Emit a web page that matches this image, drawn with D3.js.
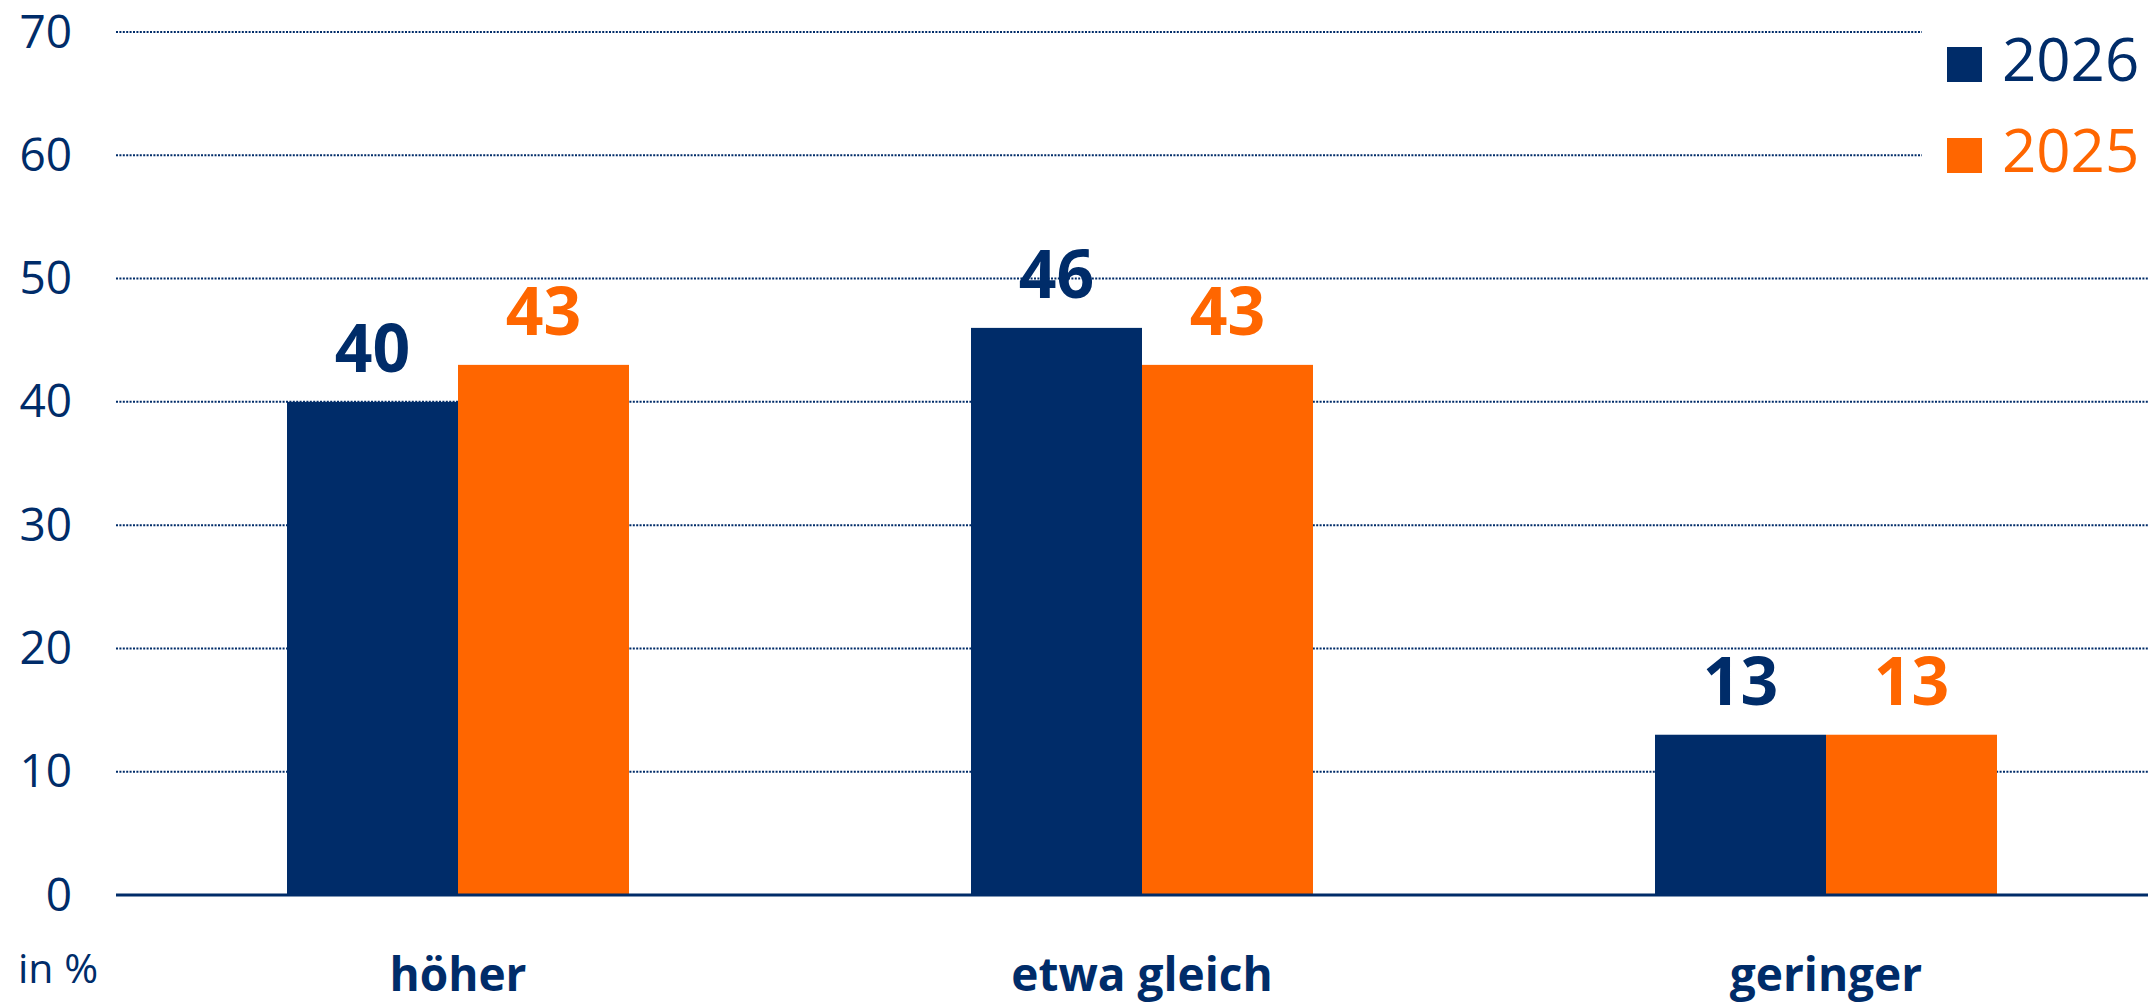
<!DOCTYPE html>
<html>
<head>
<meta charset="utf-8">
<script src="https://cdn.jsdelivr.net/npm/d3@7"></script>
<style>
  body { margin: 0; background: #fff; }
  text { font-family: "Open Sans", "Noto Sans", sans-serif; }
</style>
</head>
<body>
<div id="my_dataviz"></div>
<script>
// chart data
const categories = ["höher", "etwa gleich", "geringer"];
const years = ["2026", "2025"];
const values2026 = [40, 46, 13];
const values2025 = [43, 43, 13];
const yTicks = [0, 10, 20, 30, 40, 50, 60, 70];
const unitLabel = "in %";

const navy = "#002c69", orange = "#ff6600";
const color = d3.scaleOrdinal().domain(years).range([navy, orange]);

const W = 2148, H = 1002;
const plotLeft = 116;

const svg = d3.select("#my_dataviz")
    .append("svg")
    .attr("width", W)
    .attr("height", H);

const y = d3.scaleLinear().domain([0, 70]).range([895, 32]);

const x = d3.scaleBand()
    .domain(categories)
    .range([plotLeft, 2168])
    .paddingInner(0.5)
    .paddingOuter(0.25);

const xInner = d3.scaleBand()
    .domain(years)
    .range([0, x.bandwidth()]);

// gridlines (dotted), top two stop short of the legend
svg.append("g")
    .selectAll("line")
    .data(yTicks.filter(d => d > 0))
    .join("line")
    .attr("x1", plotLeft)
    .attr("x2", d => d >= 60 ? 1922 : W)
    .attr("y1", d => y(d))
    .attr("y2", d => y(d))
    .attr("stroke", navy)
    .attr("stroke-width", 2)
    .attr("stroke-dasharray", "2,1.4");

// y tick labels
svg.append("g")
    .selectAll("text")
    .data(yTicks)
    .join("text")
    .attr("x", 72)
    .attr("y", d => y(d))
    .attr("dy", "0.34em")
    .attr("text-anchor", "end")
    .attr("font-size", 46)
    .attr("fill", navy)
    .text(d => d);

// bars
const rows = categories.map((c, i) => ({ cat: c, vals: [
    { year: years[0], v: values2026[i] },
    { year: years[1], v: values2025[i] }
] }));

const groups = svg.append("g")
    .selectAll("g")
    .data(rows)
    .join("g")
    .attr("transform", d => `translate(${x(d.cat)},0)`);

groups.selectAll("rect")
    .data(d => d.vals)
    .join("rect")
    .attr("x", d => xInner(d.year))
    .attr("y", d => y(d.v))
    .attr("width", xInner.bandwidth())
    .attr("height", d => y(0) - y(d.v))
    .attr("fill", d => color(d.year));

groups.selectAll("text")
    .data(d => d.vals)
    .join("text")
    .attr("x", d => xInner(d.year) + xInner.bandwidth() / 2)
    .attr("y", d => y(d.v) - 30)
    .attr("text-anchor", "middle")
    .attr("font-size", 66)
    .attr("font-weight", 700)
    .attr("fill", d => color(d.year))
    .text(d => d.v);

// baseline
svg.append("line")
    .attr("x1", plotLeft)
    .attr("x2", W)
    .attr("y1", y(0))
    .attr("y2", y(0))
    .attr("stroke", navy)
    .attr("stroke-width", 3);

// category labels
svg.append("g")
    .selectAll("text")
    .data(categories)
    .join("text")
    .attr("x", d => x(d) + x.bandwidth() / 2)
    .attr("y", 991)
    .attr("text-anchor", "middle")
    .attr("font-size", 46)
    .attr("font-weight", 700)
    .attr("fill", navy)
    .text(d => d);

svg.append("text")
    .attr("x", 18)
    .attr("y", 983)
    .attr("font-size", 41)
    .attr("fill", navy)
    .text(unitLabel);

// legend
const legend = svg.append("g")
    .selectAll("g")
    .data(years)
    .join("g")
    .attr("transform", (d, i) => `translate(1947,${47 + i * 91})`);

legend.append("rect")
    .attr("width", 35)
    .attr("height", 35)
    .attr("fill", d => color(d));

legend.append("text")
    .attr("x", 55)
    .attr("y", 34)
    .attr("font-size", 60)
    .attr("fill", d => color(d))
    .text(d => d);
</script>
</body>
</html>
